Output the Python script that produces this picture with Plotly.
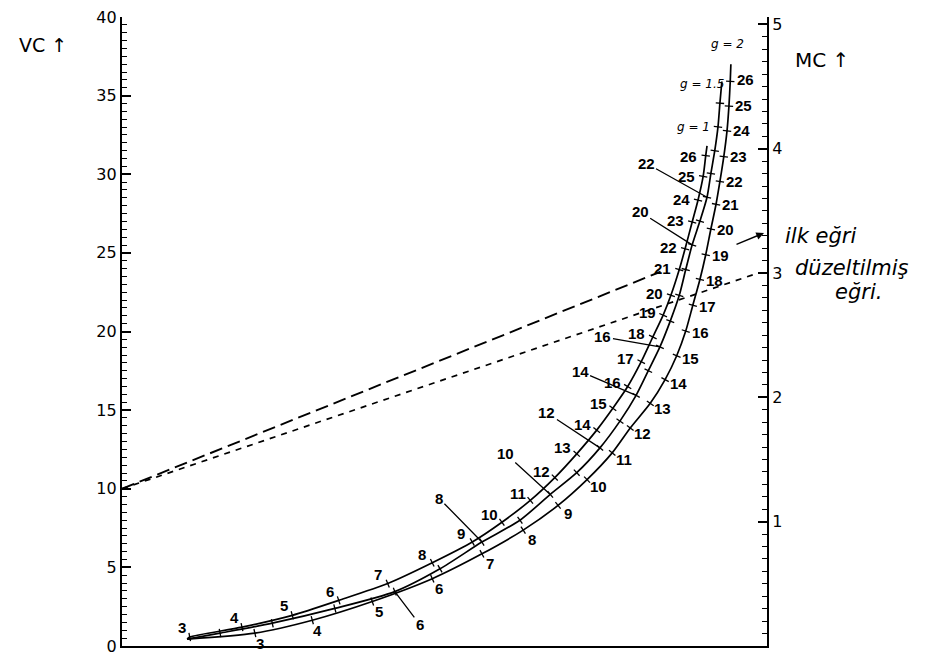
import numpy as np
import plotly.graph_objects as go

# ---------------- data ----------------
q = list(range(3, 27))

# common starting point of the three curves
start_x = 10.1
start_vc = 0.44

# g = 1 curve (upper / left)
g1_x = [10.5, 18.6, 26.4, 33.6, 41.2, 48.1, 54.3, 58.9, 63.3, 67.1, 70.5, 73.6,
        76.1, 78.4, 80.5, 82.3, 83.9, 85.1, 86.4, 87.3, 88.4, 89.3, 90.1, 90.5]
g1_vc = [0.57, 1.20, 1.95, 2.90, 3.97, 5.29, 6.61, 7.87, 9.26, 10.71, 12.22, 13.73,
         15.12, 16.50, 18.08, 19.65, 21.04, 22.30, 23.94, 25.26, 26.96, 28.35, 29.86, 31.18]
g1_end = (90.7, 31.8)

# g = 1.5 curve (middle)
g15_x = [15.2, 23.3, 33.0, 42.3, 49.3, 55.8, 61.7, 66.4, 70.5, 74.1, 77.2, 79.7,
         81.6, 83.4, 85.0, 86.4, 87.4, 88.4, 89.6, 90.7, 91.3, 91.9, 92.4, 92.7]
g15_vc = [0.82, 1.45, 2.39, 3.46, 4.91, 6.61, 8.00, 9.64, 11.02, 12.60, 14.30, 15.94,
          17.51, 19.02, 20.66, 22.30, 23.94, 25.51, 27.02, 28.54, 30.05, 31.50, 33.01, 34.52]
g15_end = (93.0, 35.9)

# g = 2 curve (lower / right)
g2_x = [20.6, 29.5, 38.8, 48.1, 55.8, 62.2, 67.6, 72.1, 76.0, 78.8, 81.9, 84.2,
        86.0, 87.4, 88.5, 89.6, 90.5, 91.3, 92.1, 92.7, 93.3, 93.8, 94.1, 94.3]
g2_vc = [0.82, 1.64, 2.83, 4.28, 5.86, 7.37, 8.94, 10.58, 12.28, 13.86, 15.43, 16.94,
         18.46, 20.03, 21.67, 23.31, 24.88, 26.52, 28.09, 29.54, 31.12, 32.76, 34.33, 35.91]
g2_end = (94.4, 37.0)

curve_names = ["g=1", "g=1.5", "g=2"]

# the q values of the middle curve that carry a leader label
g15_leader_q = [6, 8, 10, 12, 14, 16, 20, 22]

# straight lines ("ilk eğri" = first curve, "düzeltilmiş eğri" = corrected curve)
ilk_x = [0, 83.5]
ilk_vc = [10.0, 23.8]
duz_x = [0, 98.5]
duz_vc = [10.0, 23.7]

vc_ticks = [0, 5, 10, 15, 20, 25, 30, 35, 40]
mc_ticks = [1, 2, 3, 4, 5]

# ---------------- styling / layout constants ----------------
W, H = 925, 655
OFF = 8                      # default page body margin
ML, MR, MT, MB = 114, 166, 9, 17
XR = (0, 100)
YR = (0, 40)
Y2R = (0, 5.06)
PW, PH = W - ML - MR, H - MT - MB
PXX = PW / (XR[1] - XR[0])
PXY = PH / (YR[1] - YR[0])


def paper(px, py):
    """page pixel -> paper coordinates"""
    fx, fy = px - OFF, py - OFF
    return (fx - ML) / PW, (H - MB - fy) / PH


NUM_FONT = dict(family="Liberation Sans, Arial, sans-serif", size=15, color="black", weight="bold")
HAND_FONT = dict(family="DejaVu Sans, sans-serif", size=21, color="black", style="italic")
AX_FONT = dict(family="DejaVu Sans, sans-serif", size=16, color="black")

fig = go.Figure()


def screen_dir(xs, vs):
    sx = np.asarray(xs) * PXX
    sy = np.asarray(vs) * PXY
    dx = np.gradient(sx)
    dy = np.gradient(sy)
    n = np.hypot(dx, dy)
    return dx / n, dy / n


curves = [(g1_x, g1_vc, g1_end), (g15_x, g15_vc, g15_end), (g2_x, g2_vc, g2_end)]

for (xs, vs, end), name in zip(curves, curve_names):
    fig.add_trace(go.Scatter(
        x=[start_x] + xs + [end[0]], y=[start_vc] + vs + [end[1]],
        mode="lines", line=dict(color="black", width=1.7, shape="spline", smoothing=0.7),
        hoverinfo="skip", showlegend=False))
    ux, uy = screen_dir(xs, vs)
    ang = -np.degrees(np.arctan2(uy, ux))
    fig.add_trace(go.Scatter(
        x=xs, y=vs, mode="markers",
        marker=dict(symbol="line-ns", size=6, angle=list(ang),
                    line=dict(width=1.3, color="black")),
        hoverinfo="skip", showlegend=False))

# dashed straight lines
fig.add_trace(go.Scatter(x=ilk_x, y=ilk_vc, mode="lines",
                         line=dict(color="black", width=1.9, dash="13px,6px"),
                         hoverinfo="skip", showlegend=False))
fig.add_trace(go.Scatter(x=duz_x, y=duz_vc, mode="lines",
                         line=dict(color="black", width=1.7, dash="6px,6px"),
                         hoverinfo="skip", showlegend=False))
# secondary axis holder
fig.add_trace(go.Scatter(x=[None], y=[None], yaxis="y2", showlegend=False, hoverinfo="skip"))

annotations = []

# numeric labels of the g=1 (left side) and g=2 (right side) curves
label_rules = [  # (xs, vs, side, distance, extra x shift, extra y shift)
    (g1_x, g1_vc, 1, 12, -5, -2),
    (g2_x, g2_vc, -1, 13, 2, 2),
]
for xs, vs, side, dist, ex, ey in label_rules:
    ux, uy = screen_dir(xs, vs)
    for k, (xx, vv) in enumerate(zip(xs, vs)):
        annotations.append(dict(
            x=xx, y=vv, xref="x", yref="y", text=str(q[k]), showarrow=False,
            xshift=float(-side * dist * uy[k] + ex), yshift=float(side * dist * ux[k] + ey),
            font=NUM_FONT))

# leader labels of the g=1.5 curve
leader_off = [(25, 33), (-43, -44), (-45, -41), (-53, -35), (-56, -24), (-57, -10), (-52, -33), (-61, -34)]
for qq, (axp, ayp) in zip(g15_leader_q, leader_off):
    k = q.index(qq)
    annotations.append(dict(
        x=g15_x[k], y=g15_vc[k], xref="x", yref="y", text=str(qq),
        showarrow=True, arrowhead=0, arrowwidth=1.3, arrowcolor="black",
        ax=axp, ay=ayp, standoff=0, font=NUM_FONT))

# curve names at curve ends
name_off = [(-14, 19), (-20, -3), (-3, 20)]
for (xs, vs, end), name, (dxp, dyp) in zip(curves, curve_names, name_off):
    annotations.append(dict(
        x=end[0], y=end[1], xref="x", yref="y", text=name.replace("=", " = "), showarrow=False,
        xshift=dxp, yshift=dyp,
        font=dict(family="DejaVu Sans, sans-serif", size=12, color="black", style="italic")))


def page_text(px, py, text, font, xanchor="center"):
    x0, y0 = paper(px, py)
    annotations.append(dict(x=x0, y=y0, xref="paper", yref="paper", text=text,
                            xanchor=xanchor, yanchor="middle", showarrow=False, font=font))


# axis titles
page_text(43, 45, "VC ↑", dict(family="DejaVu Sans, sans-serif", size=19, color="black"))
page_text(822, 60, "MC ↑", dict(family="DejaVu Sans, sans-serif", size=20, color="black"))

# handwritten line labels
page_text(783, 236, "ilk eğri", HAND_FONT, xanchor="left")
page_text(793, 268, "düzeltilmiş", HAND_FONT, xanchor="left")
page_text(833, 292, "eğri.", HAND_FONT, xanchor="left")
tx, ty = paper(764, 233)
annotations.append(dict(x=tx, y=ty, xref="paper", yref="paper", text="",
                        showarrow=True, arrowhead=2, arrowsize=1.1, arrowwidth=1.4,
                        arrowcolor="black", ax=-29, ay=12, standoff=0))

fig.update_layout(
    width=W, height=H, autosize=False,
    margin=dict(l=ML, r=MR, t=MT, b=MB, autoexpand=False),
    paper_bgcolor="white", plot_bgcolor="white",
    showlegend=False,
    annotations=annotations,
    xaxis=dict(range=list(XR), showline=True, linecolor="black", linewidth=1.7,
               showticklabels=False, ticks="", showgrid=False, zeroline=False,
               automargin=False),
    yaxis=dict(range=list(YR), showline=True, linecolor="black", linewidth=2.2,
               tickmode="array", tickvals=vc_ticks, ticks="inside", ticklen=9,
               tickwidth=1.8, tickcolor="black", ticklabeloverflow="allow",
               minor=dict(tick0=0, dtick=0.5, ticks="inside", ticklen=5,
                          tickwidth=1.3, tickcolor="black", showgrid=False),
               showgrid=False, zeroline=False, tickfont=AX_FONT, automargin=False),
    yaxis2=dict(range=list(Y2R), overlaying="y", side="right", anchor="x",
                showline=True, linecolor="black", linewidth=2.2,
                tickmode="array", tickvals=mc_ticks, ticks="inside", ticklen=9,
                tickwidth=1.8, tickcolor="black", ticklabeloverflow="allow",
                minor=dict(tick0=0, dtick=0.1, ticks="inside", ticklen=5,
                           tickwidth=1.3, tickcolor="black", showgrid=False),
                showgrid=False, zeroline=False, tickfont=AX_FONT, automargin=False),
)

fig.write_html("out.html")
